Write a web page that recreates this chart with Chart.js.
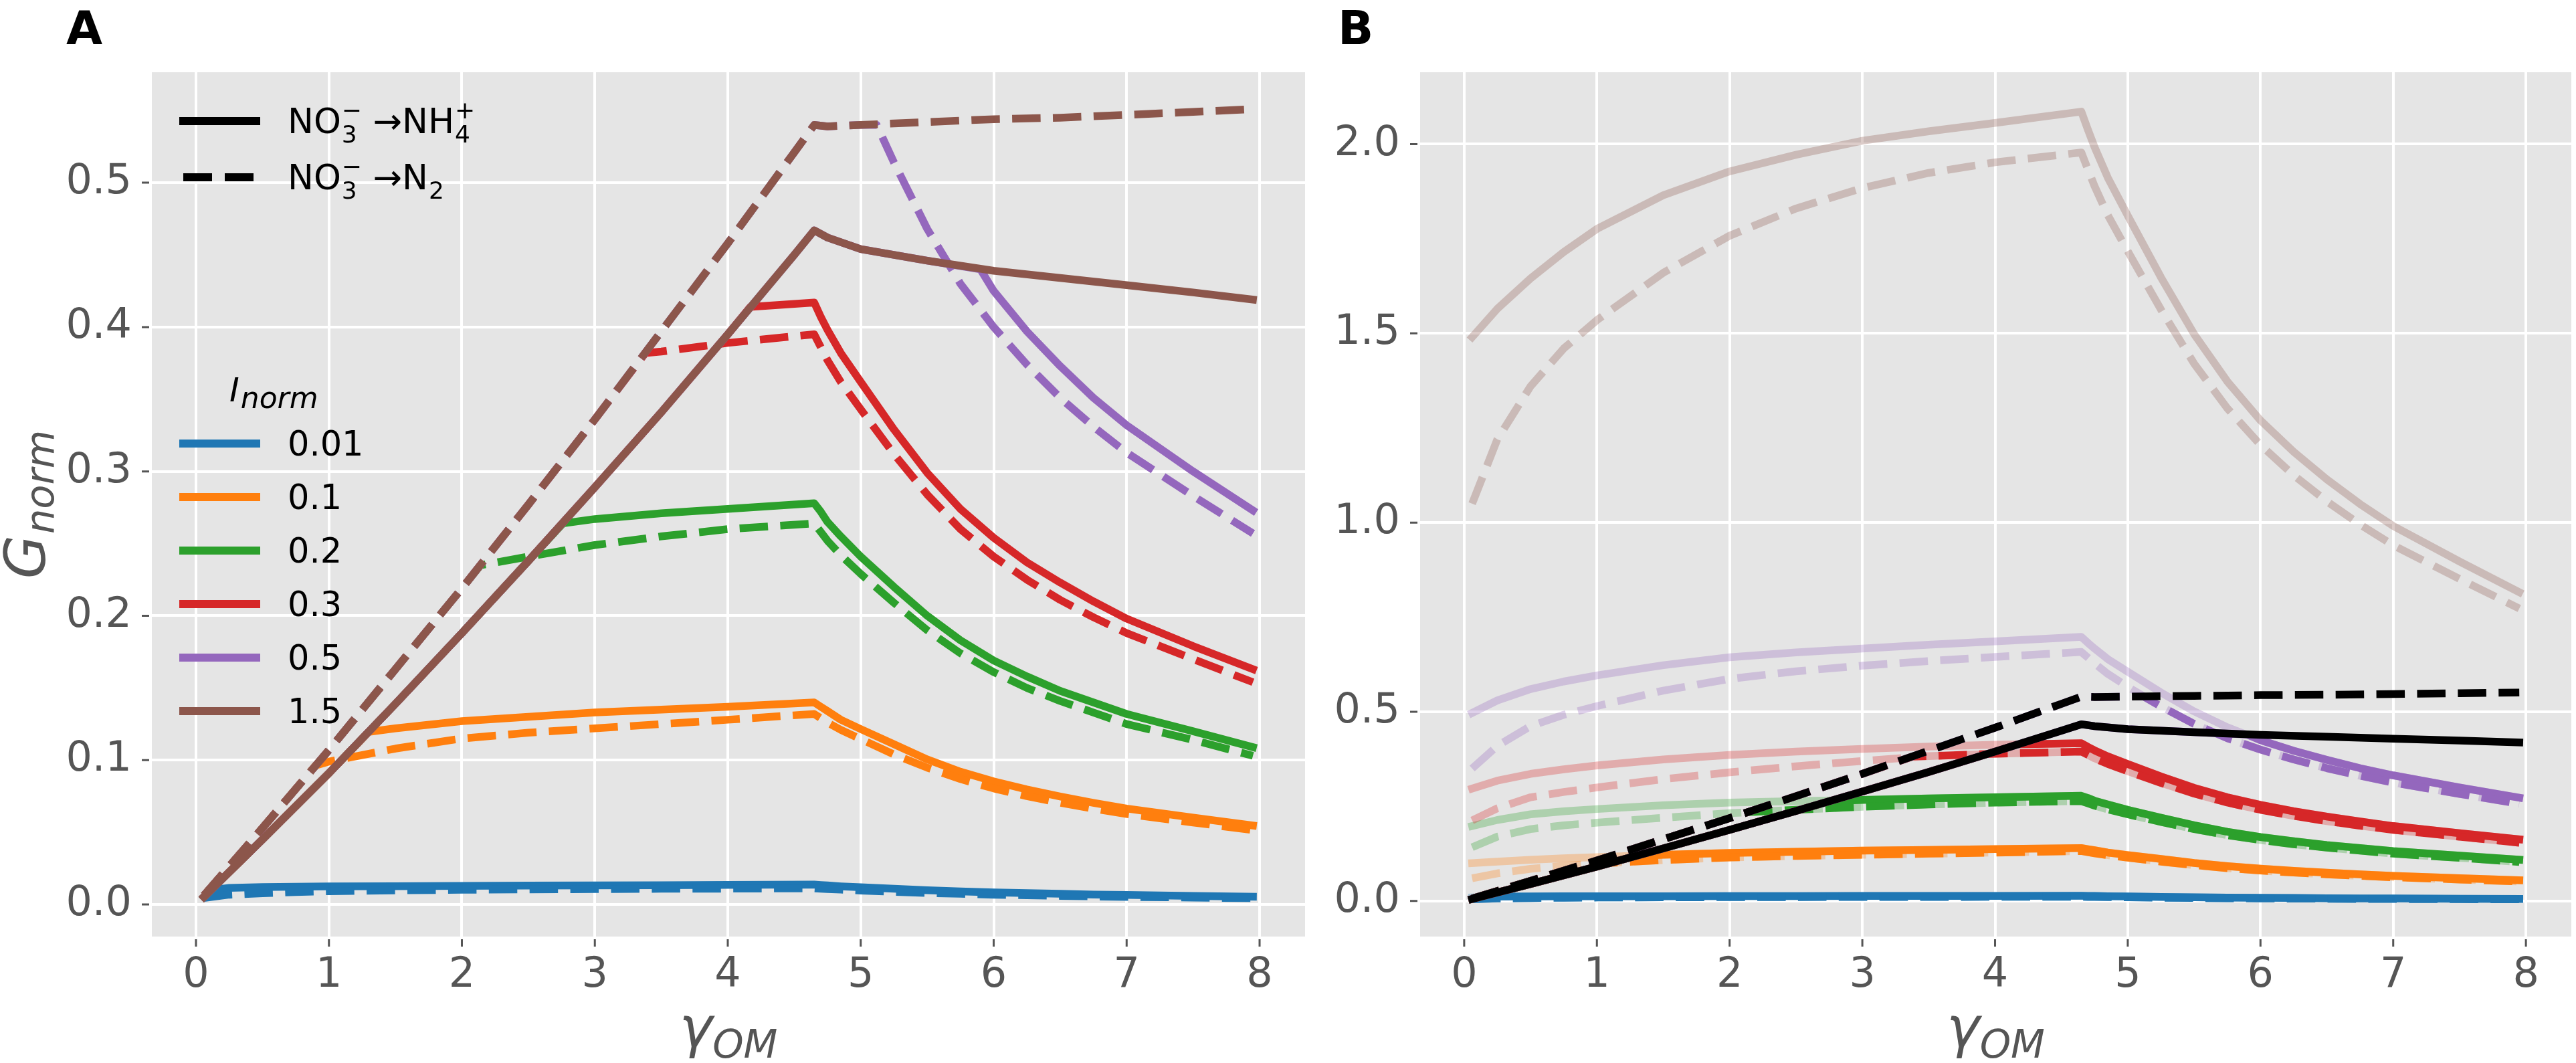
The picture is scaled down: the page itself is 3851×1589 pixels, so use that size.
<!DOCTYPE html>
<html><head><meta charset="utf-8">
<script src="https://cdn.jsdelivr.net/npm/chart.js@4.4.1/dist/chart.umd.min.js"></script>
<style>
html,body{margin:0;padding:0;background:#fff;width:3851px;height:1589px;overflow:hidden;position:relative;}
canvas{position:absolute;top:0;}
#ca{left:0;width:2000px;height:1589px;}
#cb{left:1950px;width:1901px;height:1589px;}
</style></head><body>
<canvas id="ca" width="2000" height="1589"></canvas>
<canvas id="cb" width="1901" height="1589"></canvas>
<script>
// ---------- tick labels / categories ----------
const X_TICKS = [0, 1, 2, 3, 4, 5, 6, 7, 8];
const Y_TICKS_A = [0, 0.1, 0.2, 0.3, 0.4, 0.5];
const Y_TICKS_B = [0, 0.5, 1, 1.5, 2];
const I_LABELS = ['0.01', '0.1', '0.2', '0.3', '0.5', '1.5'];
const COLORS = ['#1f77b4', '#ff7f0e', '#2ca02c', '#d62728', '#9467bd', '#8c564b'];

// ---------- x positions of the light-limited curves ----------
const PRE_X   = [0.06, 0.25, 0.5, 0.75, 1, 1.5, 2, 2.5, 3, 3.5, 4];
const DECAY_X = [4.65, 4.7, 4.75, 4.85, 5, 5.25, 5.5, 5.75, 6, 6.25, 6.5, 6.75, 7, 7.5, 7.95];
const LIGHT_X = PRE_X.concat(DECAY_X);

// ---------- light-limited curves (panel B, faded) ----------
const L_BLUE_S   = [0.0095, 0.0115, 0.0121, 0.0123, 0.0125, 0.0127, 0.0129, 0.0131, 0.0133, 0.0134, 0.0136, 0.0138, 0.0135, 0.0132, 0.0126, 0.0120, 0.0109, 0.0099, 0.0091, 0.0084, 0.0079, 0.0074, 0.0069, 0.0066, 0.0059, 0.0054];
const L_BLUE_D   = [0.0045, 0.0068, 0.0078, 0.0086, 0.0092, 0.0098, 0.0102, 0.0105, 0.0107, 0.0109, 0.0110, 0.0112, 0.0109, 0.0107, 0.0103, 0.0097, 0.0088, 0.0080, 0.0074, 0.0068, 0.0064, 0.0060, 0.0056, 0.0053, 0.0048, 0.0044];
const L_ORANGE_S = [0.100, 0.104, 0.109, 0.113, 0.116, 0.122, 0.127, 0.130, 0.133, 0.135, 0.137, 0.140, 0.137, 0.134, 0.128, 0.1215, 0.111, 0.1005, 0.092, 0.0853, 0.0797, 0.0748, 0.0704, 0.0665, 0.0602, 0.0547];
const L_ORANGE_D = [0.060, 0.073, 0.085, 0.093, 0.099, 0.108, 0.115, 0.119, 0.122, 0.125, 0.128, 0.132, 0.129, 0.126, 0.121, 0.1146, 0.104, 0.0948, 0.0869, 0.0804, 0.0751, 0.0705, 0.0664, 0.0627, 0.0568, 0.0516];
const L_GREEN_S  = [0.198, 0.214, 0.229, 0.237, 0.243, 0.253, 0.260, 0.264, 0.267, 0.271, 0.274, 0.278, 0.272, 0.265, 0.255, 0.241, 0.220, 0.200, 0.183, 0.169, 0.158, 0.148, 0.140, 0.132, 0.120, 0.109];
const L_GREEN_D  = [0.142, 0.170, 0.190, 0.200, 0.207, 0.220, 0.232, 0.241, 0.249, 0.255, 0.260, 0.264, 0.258, 0.252, 0.242, 0.229, 0.209, 0.190, 0.174, 0.161, 0.150, 0.141, 0.133, 0.125, 0.114, 0.103];
const L_RED_S    = [0.297, 0.318, 0.336, 0.348, 0.358, 0.374, 0.386, 0.395, 0.402, 0.408, 0.413, 0.417, 0.407, 0.398, 0.382, 0.362, 0.329, 0.299, 0.274, 0.254, 0.237, 0.223, 0.210, 0.198, 0.179, 0.163];
const L_RED_D    = [0.213, 0.245, 0.274, 0.288, 0.300, 0.322, 0.340, 0.356, 0.370, 0.383, 0.389, 0.395, 0.386, 0.377, 0.362, 0.343, 0.312, 0.284, 0.260, 0.241, 0.225, 0.211, 0.199, 0.188, 0.170, 0.154];
const L_PURPLE_S = [0.497, 0.530, 0.560, 0.580, 0.596, 0.623, 0.644, 0.657, 0.667, 0.677, 0.686, 0.698, 0.682, 0.667, 0.639, 0.606, 0.551, 0.501, 0.459, 0.425, 0.397, 0.373, 0.351, 0.332, 0.300, 0.273];
const L_PURPLE_D = [0.350, 0.410, 0.462, 0.492, 0.515, 0.556, 0.587, 0.607, 0.622, 0.634, 0.645, 0.658, 0.643, 0.628, 0.600, 0.566, 0.514, 0.468, 0.430, 0.400, 0.374, 0.351, 0.331, 0.313, 0.283, 0.257];
const L_BROWN_S  = [1.490, 1.565, 1.645, 1.715, 1.776, 1.865, 1.928, 1.972, 2.009, 2.034, 2.056, 2.086, 2.038, 1.992, 1.911, 1.811, 1.648, 1.498, 1.373, 1.270, 1.187, 1.114, 1.049, 0.991, 0.897, 0.816];
const L_BROWN_D  = [1.050, 1.220, 1.360, 1.460, 1.535, 1.660, 1.758, 1.830, 1.884, 1.924, 1.952, 1.978, 1.933, 1.889, 1.812, 1.717, 1.563, 1.420, 1.302, 1.205, 1.125, 1.056, 0.995, 0.940, 0.851, 0.773];

// ---------- nitrogen-limited curves (black in B, brown in A) ----------
const N_X     = [0.06, 0.5, 1, 1.5, 2, 2.5, 3, 3.5, 4, 4.5, 4.65, 4.75, 5, 5.5, 6, 6.5, 7, 7.5, 7.95];
const N_SOLID = [0.0053, 0.045, 0.091, 0.139, 0.188, 0.238, 0.289, 0.341, 0.395, 0.450, 0.467, 0.462, 0.454, 0.446, 0.439, 0.434, 0.429, 0.424, 0.419];
const N_DASH  = [0.0063, 0.053, 0.107, 0.163, 0.219, 0.277, 0.336, 0.397, 0.458, 0.521, 0.540, 0.539, 0.540, 0.542, 0.544, 0.545, 0.547, 0.549, 0.551];

// ---------- realised growth curves before the optimum (panel A; opaque in B) ----------
// (after gamma = 4.65 they continue on the light-limited values above)
const A_BLUE_S_X   = [0.06, 0.11, 0.25, 0.5, 0.75, 1, 1.5, 2, 2.5, 3, 3.5, 4];
const A_BLUE_S_Y   = [0.0053, 0.0099, 0.0115, 0.0121, 0.0123, 0.0125, 0.0127, 0.0129, 0.0131, 0.0133, 0.0134, 0.0136];
const A_ORANGE_S_X = [0.06, 0.5, 1, 1.3, 1.5, 2, 2.5, 3, 3.5, 4];
const A_ORANGE_S_Y = [0.0053, 0.045, 0.091, 0.1196, 0.122, 0.127, 0.130, 0.133, 0.135, 0.137];
const A_ORANGE_D_X = [0.06, 0.5, 0.9, 1, 1.5, 2, 2.5, 3, 3.5, 4];
const A_ORANGE_D_Y = [0.0063, 0.053, 0.0963, 0.099, 0.108, 0.115, 0.119, 0.122, 0.125, 0.128];
const A_GREEN_S_X  = [0.06, 0.5, 1, 1.5, 2, 2.5, 2.76, 3, 3.5, 4];
const A_GREEN_S_Y  = [0.0053, 0.045, 0.091, 0.139, 0.188, 0.238, 0.264, 0.267, 0.271, 0.274];
const A_GREEN_D_X  = [0.06, 0.5, 1, 1.5, 2, 2.14, 2.5, 3, 3.5, 4];
const A_GREEN_D_Y  = [0.0063, 0.053, 0.107, 0.163, 0.219, 0.235, 0.241, 0.249, 0.255, 0.260];
const A_RED_S_X    = [0.06, 0.5, 1, 1.5, 2, 2.5, 3, 3.5, 4, 4.17];
const A_RED_S_Y    = [0.0053, 0.045, 0.091, 0.139, 0.188, 0.238, 0.289, 0.341, 0.395, 0.414];
const A_RED_D_X    = [0.06, 0.5, 1, 1.5, 2, 2.5, 3, 3.38, 3.5, 4];
const A_RED_D_Y    = [0.0063, 0.053, 0.107, 0.163, 0.219, 0.277, 0.336, 0.382, 0.383, 0.389];
// purple stays on the nitrogen-limited curve past the optimum
const A_PURPLE_S_X = [0.06, 0.5, 1, 1.5, 2, 2.5, 3, 3.5, 4, 4.5, 4.65, 4.75, 5, 5.5, 5.9, 6, 6.25, 6.5, 6.75, 7, 7.5, 7.95];
const A_PURPLE_S_Y = [0.0053, 0.045, 0.091, 0.139, 0.188, 0.238, 0.289, 0.341, 0.395, 0.450, 0.467, 0.462, 0.454, 0.446, 0.440, 0.425, 0.397, 0.373, 0.351, 0.332, 0.300, 0.273];
const A_PURPLE_D_X = [0.06, 0.5, 1, 1.5, 2, 2.5, 3, 3.5, 4, 4.5, 4.65, 4.75, 5, 5.12, 5.25, 5.5, 5.75, 6, 6.25, 6.5, 6.75, 7, 7.5, 7.95];
const A_PURPLE_D_Y = [0.0063, 0.053, 0.107, 0.163, 0.219, 0.277, 0.336, 0.397, 0.458, 0.521, 0.540, 0.539, 0.540, 0.540, 0.514, 0.468, 0.430, 0.400, 0.374, 0.351, 0.331, 0.313, 0.283, 0.257];

// ---------- helpers ----------
const BG = '#E5E5E5';
const LW = 11.5;
const DASH = [42.5, 18.4];
const NPRE = PRE_X.length;
const tail = arr => arr.slice(NPRE);
const pts = (xs, ys) => xs.map((x, i) => ({x: x, y: ys[i]}));
function fade(hex, a) {
  const r = parseInt(hex.slice(1, 3), 16), g = parseInt(hex.slice(3, 5), 16), b = parseInt(hex.slice(5, 7), 16);
  return 'rgba(' + r + ',' + g + ',' + b + ',' + a + ')';
}
function ds(xs, ys, color, dashed) {
  return {
    data: pts(xs, ys), borderColor: color, backgroundColor: color, borderWidth: LW,
    borderDash: dashed ? DASH : [], borderCapStyle: dashed ? 'butt' : 'square',
    borderJoinStyle: 'round', pointRadius: 0, pointHoverRadius: 0, fill: false,
    tension: 0, showLine: true
  };
}

// [solidX, solidY, dashX, dashY] per light level
const A_SERIES = [
  [A_BLUE_S_X.concat(DECAY_X), A_BLUE_S_Y.concat(tail(L_BLUE_S)), LIGHT_X, L_BLUE_D],
  [A_ORANGE_S_X.concat(DECAY_X), A_ORANGE_S_Y.concat(tail(L_ORANGE_S)), A_ORANGE_D_X.concat(DECAY_X), A_ORANGE_D_Y.concat(tail(L_ORANGE_D))],
  [A_GREEN_S_X.concat(DECAY_X), A_GREEN_S_Y.concat(tail(L_GREEN_S)), A_GREEN_D_X.concat(DECAY_X), A_GREEN_D_Y.concat(tail(L_GREEN_D))],
  [A_RED_S_X.concat(DECAY_X), A_RED_S_Y.concat(tail(L_RED_S)), A_RED_D_X.concat(DECAY_X), A_RED_D_Y.concat(tail(L_RED_D))],
  [A_PURPLE_S_X, A_PURPLE_S_Y, A_PURPLE_D_X, A_PURPLE_D_Y],
  [N_X, N_SOLID, N_X, N_DASH]
];
const L_SERIES = [
  [L_BLUE_S, L_BLUE_D], [L_ORANGE_S, L_ORANGE_D], [L_GREEN_S, L_GREEN_D],
  [L_RED_S, L_RED_D], [L_PURPLE_S, L_PURPLE_D], [L_BROWN_S, L_BROWN_D]
];

// draw order (first = bottom); Chart.js paints dataset 0 last, so reverse at the end
const dsA = [];
A_SERIES.forEach((s, i) => {
  dsA.push(ds(s[0], s[1], COLORS[i], false));
  dsA.push(ds(s[2], s[3], COLORS[i], true));
});
dsA.reverse();

const dsB = [];
L_SERIES.forEach((s, i) => {
  dsB.push(ds(LIGHT_X, s[0], fade(COLORS[i], 0.3), false));
  dsB.push(ds(LIGHT_X, s[1], fade(COLORS[i], 0.3), true));
});
A_SERIES.slice(0, 5).forEach((s, i) => {
  dsB.push(ds(s[0], s[1], COLORS[i], false));
  dsB.push(ds(s[2], s[3], COLORS[i], true));
});
dsB.push(ds(N_X, N_SOLID, '#000000', false));
dsB.push(ds(N_X, N_DASH, '#000000', true));
dsB.reverse();

// ---------- drawing helpers ----------
function drawBg(chart) {
  const a = chart.chartArea, ctx = chart.ctx;
  ctx.save(); ctx.fillStyle = BG;
  ctx.fillRect(a.left, a.top, a.right - a.left, a.bottom - a.top);
  ctx.restore();
}
function drawTickMarks(chart) {
  const a = chart.chartArea, ctx = chart.ctx;
  ctx.save(); ctx.strokeStyle = '#555555'; ctx.lineWidth = 3;
  ctx.beginPath();
  chart.scales.x.ticks.forEach(t => {
    const px = chart.scales.x.getPixelForValue(t.value);
    ctx.moveTo(px, a.bottom + 4); ctx.lineTo(px, a.bottom + 15);
  });
  chart.scales.y.ticks.forEach(t => {
    const py = chart.scales.y.getPixelForValue(t.value);
    ctx.moveTo(a.left - 4, py); ctx.lineTo(a.left - 15, py);
  });
  ctx.stroke(); ctx.restore();
}
function drawXTitle(chart) {
  const a = chart.chartArea, ctx = chart.ctx;
  const cx = (a.left + a.right) / 2;
  ctx.save(); ctx.fillStyle = '#555555'; ctx.textBaseline = 'alphabetic'; ctx.textAlign = 'left';
  ctx.font = 'italic 84px "DejaVu Sans"';
  const w1 = ctx.measureText('\u03B3').width;
  ctx.font = 'italic 59px "DejaVu Sans"';
  const w2 = ctx.measureText('OM').width;
  const x0 = cx - (w1 + w2) / 2;
  ctx.font = 'italic 84px "DejaVu Sans"';
  ctx.fillText('\u03B3', x0, 1565);
  ctx.font = 'italic 59px "DejaVu Sans"';
  ctx.fillText('OM', x0 + w1, 1581);
  ctx.restore();
}
function drawPanelLabel(chart, txt, x) {
  const ctx = chart.ctx;
  ctx.save(); ctx.fillStyle = '#000'; ctx.font = 'bold 70px "DejaVu Sans"';
  ctx.textAlign = 'left'; ctx.textBaseline = 'alphabetic';
  ctx.fillText(txt, x, 66); ctx.restore();
}
function drawYTitle(chart) {
  const a = chart.chartArea, ctx = chart.ctx;
  const cy = (a.top + a.bottom) / 2;
  ctx.save(); ctx.fillStyle = '#555555'; ctx.textAlign = 'left'; ctx.textBaseline = 'alphabetic';
  ctx.font = 'italic 84px "DejaVu Sans"';
  const gw = ctx.measureText('G').width;
  ctx.font = 'italic 59px "DejaVu Sans"';
  const nw = ctx.measureText('norm').width;
  const total = gw + 2 + nw;
  ctx.translate(67, cy + total / 2);
  ctx.rotate(-Math.PI / 2);
  ctx.font = 'italic 84px "DejaVu Sans"';
  ctx.fillText('G', 0, 0);
  ctx.font = 'italic 59px "DejaVu Sans"';
  ctx.fillText('norm', gw + 2, 13);
  ctx.restore();
}
function supSub(ctx, x, yb, sup, sub) {
  ctx.font = '36px "DejaVu Sans"';
  let w = 0;
  if (sup) { ctx.fillText(sup, x, yb - 22); w = Math.max(w, ctx.measureText(sup).width); }
  if (sub) { ctx.fillText(sub, x, yb + 14); w = Math.max(w, ctx.measureText(sub).width); }
  ctx.font = '52px "DejaVu Sans"';
  return x + w;
}
function drawLegend(chart) {
  const ctx = chart.ctx;
  ctx.save();
  ctx.lineCap = 'butt';
  ctx.strokeStyle = '#000'; ctx.lineWidth = 12;
  ctx.beginPath(); ctx.moveTo(268, 181); ctx.lineTo(389, 181); ctx.stroke();
  ctx.setLineDash([43, 19]);
  ctx.beginPath(); ctx.moveTo(274, 265); ctx.lineTo(379, 265); ctx.stroke();
  ctx.setLineDash([]);
  ctx.fillStyle = '#000'; ctx.textAlign = 'left'; ctx.textBaseline = 'alphabetic';
  ctx.font = '52px "DejaVu Sans"';
  let x = 430, yb = 199;
  ctx.fillText('NO', x, yb); x += ctx.measureText('NO').width + 1;
  x = supSub(ctx, x, yb, '\u2212', '3');
  ctx.fillText(' \u2192NH', x, yb); x += ctx.measureText(' \u2192NH').width + 1;
  supSub(ctx, x, yb, '+', '4');
  x = 430; yb = 283;
  ctx.fillText('NO', x, yb); x += ctx.measureText('NO').width + 1;
  x = supSub(ctx, x, yb, '\u2212', '3');
  ctx.fillText(' \u2192N', x, yb); x += ctx.measureText(' \u2192N').width + 1;
  supSub(ctx, x, yb, null, '2');
  ctx.font = 'italic 50px "DejaVu Sans"';
  ctx.fillText('I', 343, 600);
  const iw = ctx.measureText('I').width;
  ctx.font = 'italic 44px "DejaVu Sans"';
  ctx.fillText('norm', 343 + iw + 2, 610);
  ctx.lineWidth = 12;
  I_LABELS.forEach((lab, i) => {
    const y = 663 + i * 80;
    ctx.strokeStyle = COLORS[i];
    ctx.beginPath(); ctx.moveTo(268, y); ctx.lineTo(389, y); ctx.stroke();
    ctx.font = '51px "DejaVu Sans"'; ctx.fillStyle = '#000';
    ctx.fillText(lab, 430, y + 18);
  });
  ctx.restore();
}

function makeOptions(yMin, yMax, yTicks, yWidth, padRight) {
  return {
    responsive: false, animation: false, devicePixelRatio: 1, events: [],
    layout: { padding: { left: 0, top: 108, right: padRight, bottom: 0 } },
    plugins: { legend: { display: false }, tooltip: { enabled: false }, title: { display: false } },
    scales: {
      x: {
        type: 'linear', min: -0.332, max: 8.342,
        afterBuildTicks: s => { s.ticks = X_TICKS.map(v => ({ value: v })); },
        afterFit: s => { s.height = 189; },
        grid: { color: '#ffffff', lineWidth: 4, drawTicks: false },
        border: { display: false },
        ticks: { color: '#555555', font: { family: 'DejaVu Sans', size: 62 }, padding: 22, maxRotation: 0, autoSkip: false, callback: v => String(v) }
      },
      y: {
        type: 'linear', min: yMin, max: yMax,
        afterBuildTicks: s => { s.ticks = yTicks.map(v => ({ value: v })); },
        afterFit: s => { s.width = yWidth; },
        grid: { color: '#ffffff', lineWidth: 4, drawTicks: false },
        border: { display: false },
        ticks: { color: '#555555', font: { family: 'DejaVu Sans', size: 62 }, padding: 30, autoSkip: false, callback: v => Number(v).toFixed(1) }
      }
    }
  };
}

new Chart(document.getElementById('ca'), {
  type: 'line',
  data: { datasets: dsA },
  options: makeOptions(-0.0222, 0.5765, Y_TICKS_A, 227, 49),
  plugins: [{
    id: 'decoA',
    beforeDraw: c => drawBg(c),
    afterDraw: c => { drawTickMarks(c); drawXTitle(c); drawYTitle(c); drawPanelLabel(c, 'A', 99); drawLegend(c); }
  }]
});

new Chart(document.getElementById('cb'), {
  type: 'line',
  data: { datasets: dsB },
  options: makeOptions(-0.094, 2.19, Y_TICKS_B, 173, 7),
  plugins: [{
    id: 'decoB',
    beforeDraw: c => drawBg(c),
    afterDraw: c => { drawTickMarks(c); drawXTitle(c); drawPanelLabel(c, 'B', 50); }
  }]
});
</script>
</body></html>
